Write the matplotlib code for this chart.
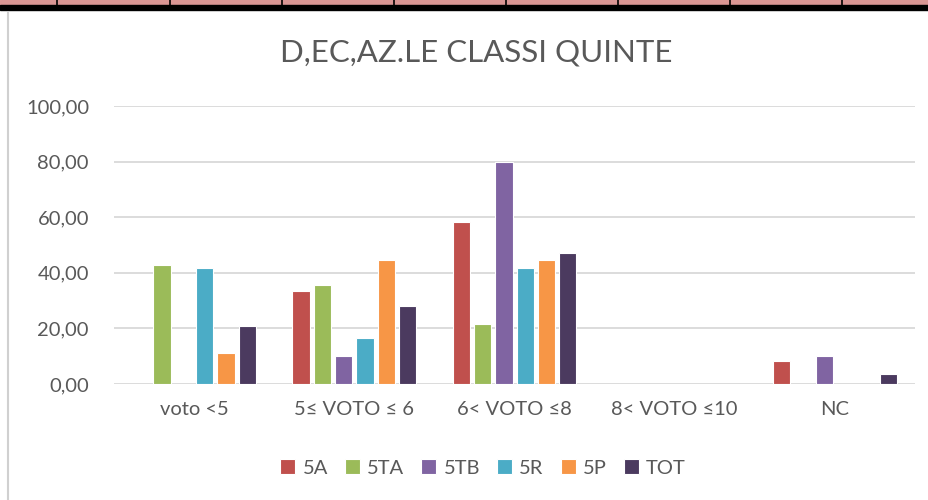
import matplotlib.pyplot as plt
import numpy as np

plt.rcParams['font.family'] = ['Lato', 'DejaVu Sans']

CATEGORIES = ['voto <5', '5≤ VOTO ≤ 6', '6< VOTO ≤8', '8< VOTO ≤10', 'NC']
SERIES = ['5A', '5TA', '5TB', '5R', '5P', 'TOT']
V_5A = [0, 33.33, 58.33, 0, 8.33]
V_5TA = [42.86, 35.71, 21.43, 0, 0]
V_5TB = [0, 10.0, 80.0, 0, 10.0]
V_5R = [41.67, 16.67, 41.67, 0, 0]
V_5P = [11.11, 44.44, 44.44, 0, 0]
V_TOT = [20.93, 27.91, 46.98, 0, 3.49]
COLORS = ['#C0504D', '#9BBB59', '#8064A2', '#4BACC6', '#F79646', '#4B3A5F']

values = [V_5A, V_5TA, V_5TB, V_5R, V_5P, V_TOT]

fig = plt.figure(figsize=(9.29, 5.0), dpi=100)

# spreadsheet strip at the top and chart frame
fig.patches.append(plt.Rectangle((0, 0.988), 1, 0.012, transform=fig.transFigure,
                                 color='#DA9694', zorder=0))
fig.patches.append(plt.Rectangle((0, 0.980), 1, 0.009, transform=fig.transFigure,
                                 color='black', zorder=1))
for xl in [57, 170, 282, 394, 506, 618, 730, 842]:
    fig.lines.append(plt.Line2D([xl / 929, xl / 929], [0.985, 1.0], transform=fig.transFigure,
                                color='black', lw=1.2))
fig.lines.append(plt.Line2D([8 / 929, 8 / 929], [0, 0.975], transform=fig.transFigure,
                            color='#D0D0D0', lw=1.5))

ax = fig.add_axes([0.1227, 0.232, 0.8623, 0.556])

x = np.arange(len(CATEGORIES))
pitch = 0.133
width = 0.108
for i, (name, vals, c) in enumerate(zip(SERIES, values, COLORS)):
    pos = x + (i - 2.5) * pitch
    vals = np.array(vals)
    mask = vals > 0
    ax.bar(pos[mask], vals[mask], width, color=c, edgecolor='white', linewidth=0.8,
           label=name, zorder=3)

ax.set_xlim(-0.5, len(CATEGORIES) - 0.5)
ax.set_ylim(0, 100)
ax.set_yticks(np.arange(0, 101, 20))
ax.set_yticklabels([f'{v:.2f}'.replace('.', ',') for v in np.arange(0, 101, 20)])
ax.set_xticks(x)
ax.set_xticklabels(CATEGORIES)
ax.tick_params(axis='both', length=0, labelsize=14.5, colors='#595959')
ax.tick_params(axis='y', pad=18)
ax.tick_params(axis='x', pad=12)
ax.grid(axis='y', color='#D9D9D9', lw=1.3, zorder=0)
for s in ax.spines.values():
    s.set_visible(False)

fig.text(0.513, 0.895, 'D,EC,AZ.LE CLASSI QUINTE', ha='center', va='center',
         fontsize=22.5, color='#595959')

fig.legend(loc='center', bbox_to_anchor=(0.52, 0.064), ncol=6, frameon=False,
           fontsize=14.5, labelcolor='#595959', handlelength=0.75, handleheight=0.75,
           handletextpad=0.35, columnspacing=0.85)

fig.savefig('out.png', dpi=100)
